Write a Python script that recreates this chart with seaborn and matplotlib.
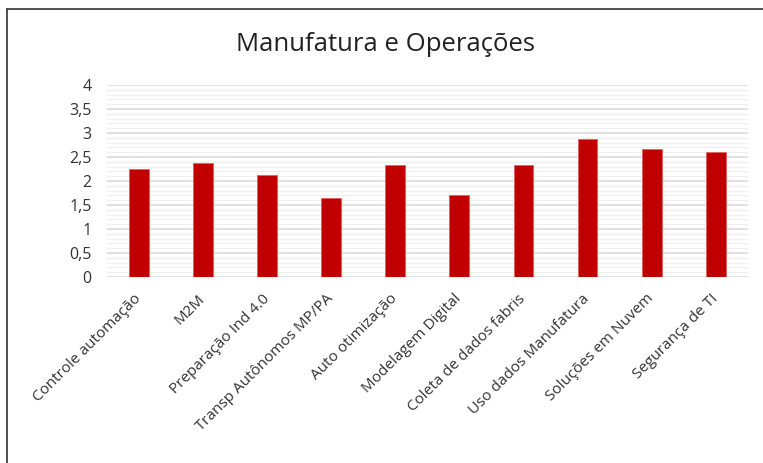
import matplotlib
matplotlib.use("Agg")
import matplotlib.pyplot as plt
import seaborn as sns
import pandas as pd
import numpy as np
from matplotlib.ticker import FuncFormatter, MultipleLocator
from matplotlib.lines import Line2D

categories = ["Controle automação", "M2M", "Preparação Ind 4.0",
              "Transp Autônomos MP/PA", "Auto otimização", "Modelagem Digital",
              "Coleta de dados fabris", "Uso dados Manufatura",
              "Soluções em Nuvem", "Segurança de TI"]
values = [2.25, 2.37, 2.12, 1.64, 2.33, 1.70, 2.33, 2.87, 2.66, 2.60]
title = "Manufatura e Operações"

sns.set_theme(style="white")
plt.rcParams['font.family'] = ['Open Sans', 'DejaVu Sans']

df = pd.DataFrame({"cat": categories, "val": values})

fig = plt.figure(figsize=(7.63, 4.63), dpi=100)
ax = fig.add_axes([0.1402, 0.4017, 0.8398, 0.4147])
sns.barplot(data=df, x="cat", y="val", color="#C00000", saturation=1,
            width=0.31, ax=ax, edgecolor="#e06060", linewidth=0.6, zorder=3)

ax.set_ylim(0, 4)
ax.set_xlim(-0.5, len(categories) - 0.5)
ax.yaxis.set_major_locator(MultipleLocator(0.5))
ax.yaxis.set_minor_locator(MultipleLocator(0.1))
ax.yaxis.set_major_formatter(FuncFormatter(lambda v, p: ("%g" % v).replace(".", ",")))
ax.grid(which="minor", axis="y", color="#efefef", linewidth=0.9, zorder=0)
ax.grid(which="major", axis="y", color="#d9d9d9", linewidth=1.1, zorder=1)
ax.set_axisbelow(True)
for s in ax.spines.values():
    s.set_visible(False)
ax.tick_params(axis="both", which="both", length=0)
ax.tick_params(axis="y", labelsize=11.5, labelcolor="#333333", pad=11)
ax.set_xlabel("")
ax.set_ylabel("")
ax.set_xticks(range(len(categories)))
ax.set_xticklabels(categories, rotation=45, ha="right", va="center",
                   rotation_mode="anchor", fontsize=11, color="#333333")
ax.tick_params(axis="x", pad=14)

fig.text(0.505, 0.903, title, ha="center", va="center", fontsize=18.5, color="#222222")

fig.add_artist(Line2D([0.009, 1.0], [0.981, 0.981], transform=fig.transFigure,
                      color="#333333", linewidth=1.2))
fig.add_artist(Line2D([0.009, 0.009], [0.0, 0.981], transform=fig.transFigure,
                      color="#333333", linewidth=1.2))

fig.savefig("out.png", dpi=100, facecolor="white")
